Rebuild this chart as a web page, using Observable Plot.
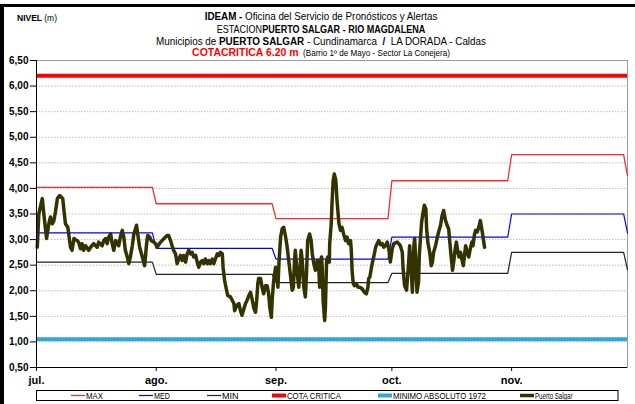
<!DOCTYPE html>
<html><head><meta charset="utf-8">
<script src="https://cdn.jsdelivr.net/npm/d3@7"></script>
<script src="https://cdn.jsdelivr.net/npm/@observablehq/plot@0.6"></script>
<style>body{margin:0;background:#fff}</style>
</head><body><div id="chart"></div>
<script>
// ---- data ----
const monthStarts = ["2015-07-01","2015-08-01","2015-09-01","2015-10-01","2015-11-01","2015-12-01"];
const monthLabels = ["jul.","ago.","sep.","oct.","nov."];
const maxLevels = [4.02,3.70,3.41,4.15,4.66,4.25];
const medLevels = [3.13,2.83,2.62,3.05,3.50,3.13];
const minLevels = [2.56,2.32,2.16,2.34,2.75,2.41];
const cotaCritica = 6.20;
const minimoAbsoluto = 1.05;
const yTicks = [0.5,1,1.5,2,2.5,3,3.5,4,4.5,5,5.5,6,6.5];
// days since 1 July
const psDays = [0.2,0.6,1.5,1.9,2.6,3.2,3.6,4.1,4.5,4.9,5.4,6.0,6.8,7.1,7.5,8.1,8.5,8.8,9.2,9.7,10.5,10.9,11.4,11.8,12.2,12.7,13.5,14.0,14.8,15.7,16.1,17.0,17.4,17.9,18.3,18.7,19.2,19.6,20.0,20.5,21.3,21.7,22.2,22.6,23.0,23.5,23.9,24.3,24.8,25.2,25.9,26.2,26.7,27.4,28.0,28.2,28.5,28.8,29.3,29.7,30.4,30.8,31.2,31.9,32.5,33.0,33.4,33.8,34.2,34.7,35.1,35.5,36.0,36.4,36.8,37.3,37.7,38.1,38.6,39.0,39.4,39.9,40.3,40.7,41.2,41.6,42.0,42.5,42.9,43.3,43.7,44.2,44.6,45.0,45.5,45.9,46.3,46.8,47.2,47.6,48.1,48.3,48.7,49.2,49.5,50.2,50.7,51.1,51.3,51.8,52.4,52.8,53.2,53.7,54.1,54.5,55.0,55.4,55.8,56.3,56.7,57.0,57.3,57.5,58.0,58.4,58.8,59.3,59.7,60.1,60.4,60.8,61.0,61.4,61.9,62.3,62.5,62.8,63.2,63.6,64.0,64.5,64.9,65.3,65.8,66.2,66.5,66.8,67.0,67.5,67.9,68.2,68.5,68.8,69.2,69.6,69.9,70.2,70.7,71.1,71.4,71.8,72.2,72.7,73.1,73.3,73.5,73.8,74.0,74.2,74.6,74.8,75.1,75.4,75.8,75.9,76.3,76.5,76.8,77.1,77.5,77.8,78.3,78.7,79.1,79.5,80.0,80.4,80.8,81.3,81.5,81.7,82.0,82.3,82.8,83.2,83.7,84.3,84.9,85.4,85.8,86.0,86.3,86.6,86.9,87.3,87.8,88.2,88.6,89.1,89.5,89.9,90.3,90.8,91.2,91.6,92.1,92.5,93.4,94.2,94.7,94.9,95.3,95.8,96.1,96.4,96.6,97.0,97.3,97.5,97.7,97.9,98.2,98.5,98.9,99.1,99.4,99.7,100.1,100.4,100.8,101.0,101.3,101.8,102.2,102.5,102.8,103.3,103.7,104.1,104.6,105.0,105.4,105.9,106.3,106.7,107.0,107.4,107.7,108.0,108.4,108.7,109.1,109.4,109.8,110.1,110.5,110.8,111.1,111.5,111.9,112.3,112.7,113.0,113.4,113.7,114.1,114.5,114.9,115.4,115.8,116.0];
const psLevels = [2.85,3.50,3.80,3.50,3.02,3.31,3.44,3.31,3.37,3.54,3.80,3.86,3.80,3.57,3.31,3.24,3.02,2.85,2.79,3.02,2.98,2.95,2.82,2.92,2.79,2.88,2.79,2.85,2.92,2.85,2.95,2.88,2.98,3.02,2.92,3.05,3.11,2.92,2.79,2.98,2.88,3.05,3.18,3.05,2.79,2.66,2.53,2.66,2.88,3.11,3.28,3.11,2.85,2.66,2.49,2.66,2.92,3.08,3.05,2.98,2.95,2.92,2.85,2.93,2.98,3.02,3.05,3.08,3.08,2.98,2.88,2.79,2.72,2.53,2.62,2.69,2.59,2.69,2.56,2.72,2.79,2.72,2.75,2.66,2.69,2.56,2.46,2.56,2.59,2.53,2.62,2.53,2.59,2.53,2.62,2.53,2.62,2.72,2.69,2.75,2.72,2.46,2.20,2.01,1.91,1.88,1.81,1.75,1.61,1.71,1.75,1.61,1.52,1.65,1.75,1.81,1.91,1.97,1.84,1.65,1.58,1.81,2.14,2.24,2.24,2.07,1.94,2.10,2.10,1.94,1.68,1.48,1.81,2.20,2.46,2.27,2.07,2.59,3.05,3.21,3.24,3.05,2.85,2.59,2.27,2.01,2.07,2.59,2.79,2.33,2.07,2.40,2.79,2.59,2.07,1.88,2.33,2.98,3.11,2.98,2.72,2.53,2.40,2.59,2.40,2.07,2.59,2.66,2.40,1.81,1.42,1.68,2.59,2.66,2.56,2.92,3.31,3.70,4.15,4.28,4.15,3.76,3.31,3.18,3.24,3.11,2.98,3.05,2.92,2.98,2.79,2.40,2.14,2.10,2.14,2.07,2.07,2.04,1.97,1.94,2.07,2.24,2.27,2.40,2.53,2.66,2.85,2.92,2.98,2.90,2.92,2.85,2.88,2.95,2.82,2.56,2.82,2.92,2.95,2.88,2.75,2.43,2.10,2.01,2.30,2.62,2.88,2.43,1.97,2.30,2.88,3.02,2.56,1.97,2.17,2.69,3.02,3.34,3.54,3.67,3.60,3.21,2.95,2.75,2.49,2.56,2.75,2.88,3.02,3.15,3.28,3.47,3.57,3.37,3.28,3.21,2.95,2.62,2.40,2.56,2.82,2.95,2.75,2.66,2.75,2.62,2.49,2.69,2.88,2.75,2.66,2.82,2.95,2.88,3.11,3.18,3.15,3.24,3.37,3.15,2.95,2.85];

// ---- build tables ----
const FONT = "'Liberation Sans',Arial,sans-serif";
const start = new Date(monthStarts[0]);
const end = new Date(monthStarts[monthStarts.length - 1]);
const tickDates = monthStarts.slice(0, monthLabels.length).map(s => new Date(s));

function monthly(vals) {
  const out = [];
  vals.forEach((v, i) => {
    out.push({date: new Date(monthStarts[i]), v});
    if (i < vals.length - 1) out.push({date: d3.utcDay.offset(new Date(monthStarts[i + 1]), -1), v});
  });
  return out;
}
const maxData = monthly(maxLevels), medData = monthly(medLevels), minData = monthly(minLevels);
const ps = psDays.map((d, i) => ({date: new Date(+start + d * 864e5), v: psLevels[i]}));

const plot = Plot.plot({
  width: 635, height: 404,
  marginLeft: 36, marginRight: 8, marginTop: 60, marginBottom: 37,
  style: {fontFamily: FONT, fontSize: "10px", background: "#fff", color: "#000", overflow: "visible"},
  x: {type: "utc", domain: [start, end]},
  y: {domain: [0.5, 6.5]},
  marks: [
    Plot.gridY(yTicks, {stroke: "#bcbcbc", strokeOpacity: 1, strokeDasharray: "1.5,1.5"}),
    Plot.frame({stroke: "#9a9a9a"}),
    Plot.ruleY([cotaCritica], {stroke: "#ff0000", strokeWidth: 4}),
    Plot.ruleY([minimoAbsoluto], {stroke: "#2fa6dc", strokeWidth: 4}),
    Plot.line(maxData, {x: "date", y: "v", stroke: "#ff2b2b", strokeWidth: 1.3}),
    Plot.line(medData, {x: "date", y: "v", stroke: "#0000ff", strokeWidth: 1.2}),
    Plot.line(minData, {x: "date", y: "v", stroke: "#222", strokeWidth: 1.2}),
    Plot.line(ps, {x: "date", y: "v", stroke: "#333300", strokeWidth: 3.5, strokeLinejoin: "round", strokeLinecap: "round"}),
    Plot.ruleX([start], {stroke: "#000"}),
    Plot.ruleY([0.5], {stroke: "#000"}),
    Plot.axisY(yTicks, {tickSize: 6, tickPadding: 2, label: null, fontWeight: "bold", fontSize: 10,
      tickFormat: d => d.toFixed(2).replace(".", ",")}),
    Plot.axisX(tickDates, {tickSize: 4, tickPadding: 5, label: null, fontWeight: "bold", fontSize: 11,
      tickFormat: d => monthLabels[tickDates.findIndex(t => +t === +d)]})
  ]
});
document.getElementById("chart").append(plot);

// ---- decorations with d3 ----
const svg = d3.select(plot);
svg.append("rect").attr("x", 0).attr("y", 4).attr("width", 4).attr("height", 400).attr("fill", "#000");
svg.append("rect").attr("x", 0).attr("y", 4).attr("width", 635).attr("height", 3).attr("fill", "#000");

// condensed text: natural text scaled horizontally to a target width
function condensed(x, y, anchor, width, size, parts) {
  const g = svg.append("g");
  const t = g.append("text").attr("x", 0).attr("y", 0).attr("text-anchor", anchor)
    .style("font-family", FONT).style("font-size", size + "px").attr("fill", "#000");
  parts.forEach(p => {
    const s = t.append("tspan").text(p[0]);
    if (p[1]) s.attr("font-weight", "bold");
    if (p[2]) s.attr("fill", p[2]);
    if (p[3]) s.style("font-size", p[3] + "px");
  });
  const natural = t.node().getComputedTextLength() || width;
  g.attr("transform", `translate(${x},${y}) scale(${width / natural},1)`);
}
condensed(321, 20, "middle", 233, 11, [["IDEAM - ", true], ["Oficina del Servicio de Pronósticos y Alertas"]]);
condensed(321, 32.5, "middle", 209, 11, [["ESTACION"], ["PUERTO SALGAR - RIO MAGDALENA", true]]);
condensed(321, 44.5, "middle", 330, 11, [["Municipios de "], ["PUERTO SALGAR", true], [" - Cundinamarca  "], ["/", true], ["  LA DORADA - Caldas"]]);
condensed(321, 56, "middle", 258, 11, [["COTACRITICA 6.20 m", true, "#ff0000"], ["  (Barrio 1º de Mayo - Sector La Conejera)", false, null, 8.5]]);
condensed(17, 20.5, "start", 40, 9, [["NIVEL ", true], ["(m)"]]);

// legend
const legendItems = ["MAX", "MED", "MIN", "COTA CRITICA", "MINIMO ABSOLUTO 1972", "Puerto Salgar"];
const legendColors = ["#ff2b2b", "#0000ff", "#222", "#ff0000", "#2fa6dc", "#333300"];
const legendWidths = [1.3, 1.2, 1.2, 4, 4, 3.5];
const legendX = [71, 139, 207, 272, 378, 520];
const legendTextLen = [17, 16, 16.5, 54, 93, 37.5];
svg.append("rect").attr("x", 36.5).attr("y", 390.5).attr("width", 581.5).attr("height", 10)
  .attr("fill", "#fff").attr("stroke", "#000").attr("stroke-width", 1);
legendItems.forEach((name, i) => {
  svg.append("line").attr("x1", legendX[i]).attr("x2", legendX[i] + 14).attr("y1", 395.5).attr("y2", 395.5)
    .attr("stroke", legendColors[i]).attr("stroke-width", legendWidths[i]);
  condensed(legendX[i] + 15, 398.8, "start", legendTextLen[i], 9, [[name]]);
});
</script>
</body></html>
